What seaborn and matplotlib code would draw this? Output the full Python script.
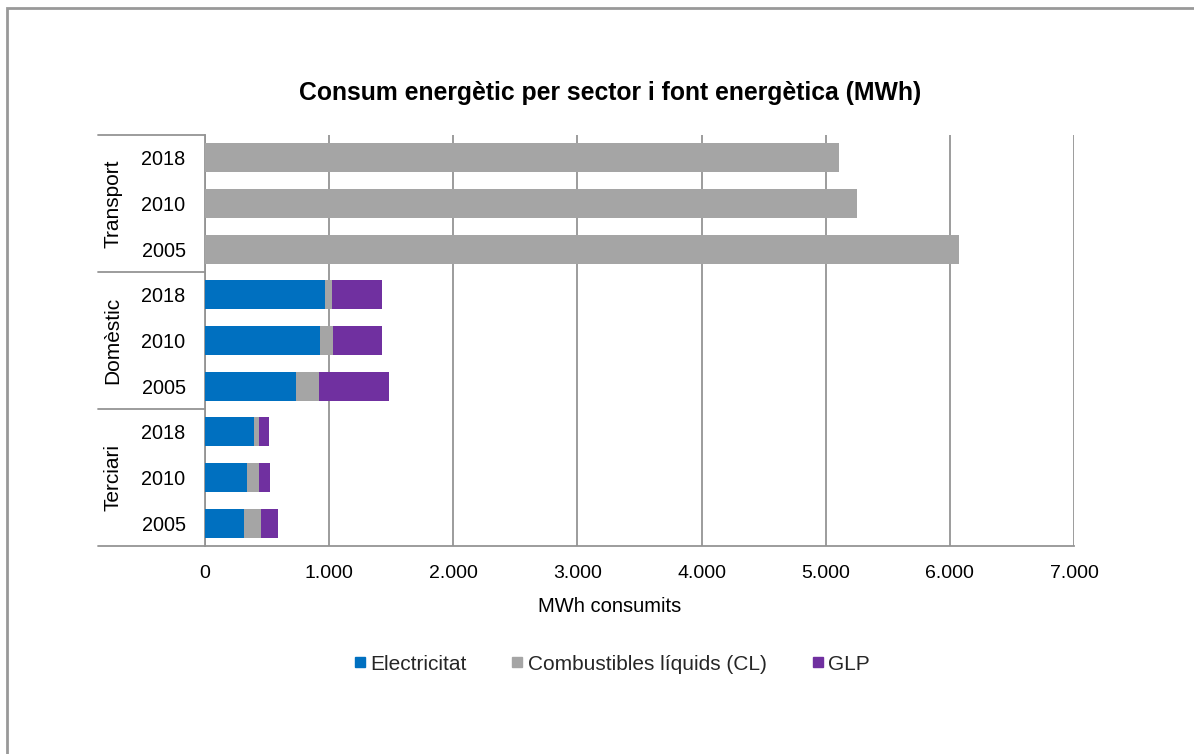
import matplotlib
matplotlib.use("Agg")
import matplotlib.pyplot as plt
import matplotlib.patches as mpatches
from matplotlib.lines import Line2D
from matplotlib.ticker import FuncFormatter, MultipleLocator
import seaborn as sns
import pandas as pd

sns.set_theme(style="white")
plt.rcParams["font.family"] = ["Liberation Sans", "DejaVu Sans"]

# Energy consumption by sector and source (MWh)
sectors = ["Transport", "Domèstic", "Terciari"]
years = ["2018", "2010", "2005"]
electricitat = [0, 0, 0, 963, 923, 729, 391, 342, 316]
combustibles = [5105, 5250, 6070, 62, 110, 191, 46, 95, 137]
glp = [0, 0, 0, 400, 392, 564, 77, 85, 139]

series_names = ["Electricitat", "Combustibles líquids (CL)", "GLP"]
colors = ["#0070C0", "#A5A5A5", "#7030A0"]

rows = [f"{s} {y}" for s in sectors for y in years]
df = pd.DataFrame({
    "row": rows,
    "Electricitat": electricitat,
    "Combustibles": combustibles,
    "GLP": glp,
})
# cumulative totals so that overlaid bars read as a stacked bar
df["cum_elec"] = df["Electricitat"]
df["cum_cl"] = df["cum_elec"] + df["Combustibles"]
df["cum_glp"] = df["cum_cl"] + df["GLP"]

W, H = 1194, 754
fig = plt.figure(figsize=(W / 100, H / 100), dpi=100)
ax = fig.add_axes([205 / W, 1 - 546 / H, (1074 - 205) / W, (546 - 135) / H])

for col, color in zip(["cum_glp", "cum_cl", "cum_elec"], [colors[2], colors[1], colors[0]]):
    sns.barplot(data=df, y="row", x=col, orient="h", color=color, ax=ax,
                width=0.63, saturation=1, linewidth=0, order=rows, zorder=3)

ax.set_xlim(0, 7000)
ax.set_ylim(len(rows) - 0.5, -0.5)
ax.xaxis.set_major_locator(MultipleLocator(1000))
ax.xaxis.set_major_formatter(FuncFormatter(lambda v, p: f"{int(v):,}".replace(",", ".")))
ax.grid(axis="x", color="#949494", linewidth=1.3, zorder=0)
ax.grid(axis="y", visible=False)
ax.set_axisbelow(True)

ax.set_yticks(range(len(rows)))
ax.set_yticklabels(years * len(sectors))
ax.set_ylabel("")
ax.set_xlabel("")
ax.tick_params(axis="y", length=0, pad=14, labelsize=14.3, colors="#000000")
ax.tick_params(axis="x", length=0, pad=14, labelsize=14, colors="#000000")

for side in ["top", "right"]:
    ax.spines[side].set_visible(False)
for side in ["left", "bottom"]:
    ax.spines[side].set_color("#949494")
    ax.spines[side].set_linewidth(1.3)

# sector group labels and separators on the category axis
ext = (98 - 205) / (1074 - 205)
trans = ax.get_yaxis_transform()
for yv in [-0.5, 2.5, 5.5, 8.5]:
    ax.plot([ext, 0], [yv, yv], transform=trans, color="#949494",
            linewidth=1.3, clip_on=False)
gx = (113 - 205) / (1074 - 205)
for i, s in enumerate(sectors):
    ax.text(gx, 3 * i + 1, s, transform=trans, rotation=90, ha="center",
            va="center", fontsize=15, color="#000000")

fig.text(610 / W, 1 - 93 / H, "Consum energètic per sector i font energètica (MWh)",
         ha="center", va="center", fontsize=17.8, fontweight="bold", color="#000000")
fig.text(610 / W, 1 - 607 / H, "MWh consumits", ha="center", va="center",
         fontsize=14.5, color="#000000")

handles = [Line2D([0], [0], marker="s", linestyle="none", markersize=7.5,
                  markerfacecolor=c, markeredgecolor=c) for c in colors]
fig.legend(handles, series_names, loc="center", bbox_to_anchor=(610 / W, 1 - 664 / H),
           ncol=3, frameon=False, fontsize=15, handletextpad=0.05,
           columnspacing=2.0, handlelength=0.9)

fig.patches.append(mpatches.Rectangle((7 / W, -0.1), 1.2, 1 - 8 / H + 0.1,
                                      transform=fig.transFigure, fill=False,
                                      edgecolor="#999999", linewidth=2))

fig.savefig("out.png", dpi=100)
